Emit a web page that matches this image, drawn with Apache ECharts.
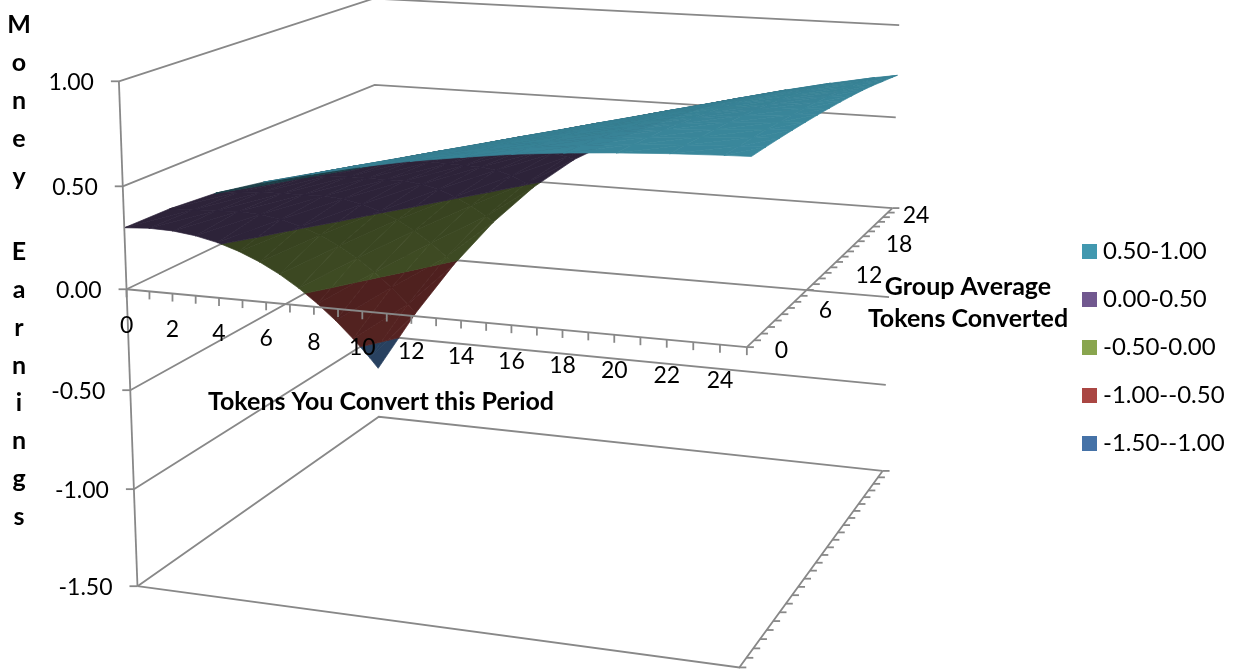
<!DOCTYPE html>
<html>
<head>
<meta charset="utf-8">
<title>Money Earnings surface</title>
<script src="https://cdn.jsdelivr.net/npm/echarts@6/dist/echarts.min.js"></script>
<style>html,body{margin:0;padding:0;background:#fff}#chart{width:1238px;height:671px}</style>
</head>
<body>
<div id="chart"></div>
<script>
// Category positions sampled by the earnings table (tokens you convert, group average).
const tokenCols = [0, 2, 4, 6, 8, 10, 12, 14, 16, 18, 20, 22, 24, 25];
const groupRows = [0, 2, 4, 6, 8, 10, 12, 14, 16, 18, 20, 22, 24, 25];

// Money earnings: one row per group average, one column per token count.
const earnings00 = [0.300, 0.410, 0.503, 0.572, 0.627, 0.677, 0.720, 0.754, 0.785, 0.807, 0.824, 0.837, 0.846, 0.849];
const earnings02 = [0.246, 0.355, 0.460, 0.540, 0.600, 0.653, 0.700, 0.738, 0.771, 0.797, 0.816, 0.831, 0.842, 0.846];
const earnings04 = [0.181, 0.300, 0.410, 0.503, 0.572, 0.627, 0.677, 0.720, 0.754, 0.785, 0.807, 0.824, 0.837, 0.842];
const earnings06 = [0.104, 0.246, 0.355, 0.460, 0.540, 0.600, 0.653, 0.700, 0.738, 0.771, 0.797, 0.816, 0.831, 0.837];
const earnings08 = [0.016, 0.181, 0.300, 0.410, 0.503, 0.572, 0.627, 0.677, 0.720, 0.754, 0.785, 0.807, 0.824, 0.831];
const earnings10 = [-0.084, 0.104, 0.246, 0.355, 0.460, 0.540, 0.600, 0.653, 0.700, 0.738, 0.771, 0.797, 0.816, 0.824];
const earnings12 = [-0.195, 0.016, 0.181, 0.300, 0.410, 0.503, 0.572, 0.627, 0.677, 0.720, 0.754, 0.785, 0.807, 0.816];
const earnings14 = [-0.318, -0.084, 0.104, 0.246, 0.355, 0.460, 0.540, 0.600, 0.653, 0.700, 0.738, 0.771, 0.797, 0.807];
const earnings16 = [-0.453, -0.195, 0.016, 0.181, 0.300, 0.410, 0.503, 0.572, 0.627, 0.677, 0.720, 0.754, 0.785, 0.797];
const earnings18 = [-0.599, -0.318, -0.084, 0.104, 0.246, 0.355, 0.460, 0.540, 0.600, 0.653, 0.700, 0.738, 0.771, 0.785];
const earnings20 = [-0.756, -0.453, -0.195, 0.016, 0.181, 0.300, 0.410, 0.503, 0.572, 0.627, 0.677, 0.720, 0.754, 0.771];
const earnings22 = [-0.925, -0.599, -0.318, -0.084, 0.104, 0.246, 0.355, 0.460, 0.540, 0.600, 0.653, 0.700, 0.738, 0.754];
const earnings24 = [-1.105, -0.756, -0.453, -0.195, 0.016, 0.181, 0.300, 0.410, 0.503, 0.572, 0.627, 0.677, 0.720, 0.738];
const earnings25 = [-1.200, -0.839, -0.524, -0.255, -0.033, 0.144, 0.274, 0.383, 0.482, 0.556, 0.614, 0.665, 0.710, 0.729];
const earningsRows = [earnings00, earnings02, earnings04, earnings06, earnings08, earnings10, earnings12,
  earnings14, earnings16, earnings18, earnings20, earnings22, earnings24, earnings25];

// Value bands, listed from the lowest range up so higher bands paint last.
const bandNames = ['-1.50--1.00', '-1.00--0.50', '-0.50-0.00', '0.00-0.50', '0.50-1.00'];
const bandLows = [-1.5, -1.0, -0.5, 0.0, 0.5];
const bandHighs = [-1.0, -0.5, 0.0, 0.5, 1.0];
const bandColors = ['#4572A7', '#AA4643', '#89A54E', '#71588F', '#4198AF'];
const bandUndersideLift = [0.07, 0, 0, 0, 0];
const legendOrder = ['0.50-1.00', '0.00-0.50', '-0.50-0.00', '-1.00--0.50', '-1.50--1.00'];

// Axis ticks and their labels.
const moneyTicks = [1, 0.5, 0, -0.5, -1, -1.5];
const moneyLabels = ['1.00', '0.50', '0.00', '-0.50', '-1.00', '-1.50'];
const tokenTicks = [0, 1, 2, 3, 4, 5, 6, 7, 8, 9, 10, 11, 12, 13, 14, 15, 16, 17, 18, 19, 20, 21, 22, 23, 24, 25];
const tokenLabels = ['0', '2', '4', '6', '8', '10', '12', '14', '16', '18', '20', '22', '24'];
const groupTicks = tokenTicks;
const groupLabels = ['0', '6', '12', '18', '24'];

const TOKEN_MAX = 25;
const FLOOR = -1.5;
const LABEL_FONT = '23px Lato';
const TITLE_FONT = 'bold 25px Lato';
const LINE = '#888888';
const LINE_WIDTH = 1.8;

// Known screen spots of the plot box, [tokens, group, money, px, py], used to fit the camera.
const cameraAnchors = [
  [0, 0, 1, 117, 82], [0, 0, 0.5, 122, 187], [0, 0, 0, 127, 289], [0, 0, -0.5, 131, 390], [0, 0, -1, 134, 489], [0, 0, -1.5, 138, 586],
  [0, 25, 1, 376, -2], [0, 25, 0.5, 375, 85], [0, 25, 0, 376, 170], [0, 25, -0.5, 376, 254], [0, 25, -1, 377, 335], [0, 25, -1.5, 378, 417],
  [25, 25, 1, 897, 25], [25, 25, 0.5, 897, 117], [25, 25, 0, 893, 208], [25, 25, -0.5, 888, 297], [25, 25, -1, 887, 386], [25, 25, -1.5, 882, 471],
  [25, 0, 0, 747, 347], [25, 0, -1.5, 740, 667]
];

// Least-squares fit of a 3D-to-2D projective camera.
function fitCamera(anchors) {
  const n = 11;
  const ata = Array.from({ length: n }, () => new Array(n + 1).fill(0));
  const addRow = (row, rhs) => {
    for (let i = 0; i < n; i++) {
      for (let j = 0; j < n; j++) ata[i][j] += row[i] * row[j];
      ata[i][n] += row[i] * rhs;
    }
  };
  anchors.forEach(([t, g, z, px, py]) => {
    const X = t / TOKEN_MAX, Y = g / TOKEN_MAX, u = px / 1000, v = py / 1000;
    addRow([X, Y, z, 1, 0, 0, 0, 0, -u * X, -u * Y, -u * z], u);
    addRow([0, 0, 0, 0, X, Y, z, 1, -v * X, -v * Y, -v * z], v);
  });
  for (let c = 0; c < n; c++) {
    let pivot = c;
    for (let r = c + 1; r < n; r++) if (Math.abs(ata[r][c]) > Math.abs(ata[pivot][c])) pivot = r;
    [ata[c], ata[pivot]] = [ata[pivot], ata[c]];
    for (let r = 0; r < n; r++) {
      if (r === c) continue;
      const f = ata[r][c] / ata[c][c];
      for (let k = c; k <= n; k++) ata[r][k] -= f * ata[c][k];
    }
  }
  return ata.map((row, i) => row[n] / row[i]);
}
const cam = fitCamera(cameraAnchors);

function project(t, g, z) {
  const X = t / TOKEN_MAX, Y = g / TOKEN_MAX;
  const w = cam[8] * X + cam[9] * Y + cam[10] * z + 1;
  return [
    1000 * (cam[0] * X + cam[1] * Y + cam[2] * z + cam[3]) / w,
    1000 * (cam[4] * X + cam[5] * Y + cam[6] * z + cam[7]) / w
  ];
}

// Triangles of the surface, far cells first so nearer cells paint over them.
const triangles = [];
for (let r = groupRows.length - 2; r >= 0; r--) {
  for (let c = 0; c < tokenCols.length - 1; c++) {
    const x0 = tokenCols[c], x1 = tokenCols[c + 1], g0 = groupRows[r], g1 = groupRows[r + 1];
    const a = earningsRows[r][c], b = earningsRows[r][c + 1], d = earningsRows[r + 1][c + 1], e = earningsRows[r + 1][c];
    triangles.push([x0, g0, a, x1, g1, d, x0, g1, e]);
    triangles.push([x0, g0, a, x1, g0, b, x1, g1, d]);
  }
}

function clipBelow(poly, limit, sign) {
  const out = [];
  for (let i = 0; i < poly.length; i++) {
    const p = poly[i], q = poly[(i + 1) % poly.length];
    const dp = sign * (p[2] - limit), dq = sign * (q[2] - limit);
    if (dp <= 0) out.push(p);
    if ((dp < 0 && dq > 0) || (dp > 0 && dq < 0)) {
      const k = dp / (dp - dq);
      out.push([p[0] + k * (q[0] - p[0]), p[1] + k * (q[1] - p[1]), p[2] + k * (q[2] - p[2])]);
    }
  }
  return out;
}

function signedArea(a, b, c) {
  return (b[0] - a[0]) * (c[1] - a[1]) - (c[0] - a[0]) * (b[1] - a[1]);
}
const topSign = Math.sign(signedArea(project(0, 0, 0), project(25, 0, 0), project(25, 25, 0)));

function shade(hex, k) {
  const n = parseInt(hex.slice(1), 16);
  const ch = s => Math.max(0, Math.min(255, Math.round(((n >> s) & 255) * k)));
  return 'rgb(' + ch(16) + ',' + ch(8) + ',' + ch(0) + ')';
}

function bandRenderer(idx) {
  return function (params, api) {
    const v = [];
    for (let i = 0; i < 9; i++) v.push(api.value(i));
    const tri = [[v[0], v[1], v[2]], [v[3], v[4], v[5]], [v[6], v[7], v[8]]];
    let poly = clipBelow(tri, bandHighs[idx], 1);
    if (poly.length >= 3) poly = clipBelow(poly, bandLows[idx], -1);
    if (poly.length < 3) return null;

    // Facet shading: the underside is darker and brightens with steepness.
    const ux = tri[1][0] - tri[0][0], uy = tri[1][1] - tri[0][1], uz = tri[1][2] - tri[0][2];
    const vx = tri[2][0] - tri[0][0], vy = tri[2][1] - tri[0][1], vz = tri[2][2] - tri[0][2];
    const nz = ux * vy - uy * vx;
    const gx = (uz * vy - uy * vz) / nz, gy = (ux * vz - uz * vx) / nz;
    const grad = Math.sqrt(gx * gx + gy * gy);
    const faceTop = Math.sign(signedArea(project(tri[0][0], tri[0][1], tri[0][2]),
      project(tri[1][0], tri[1][1], tri[1][2]), project(tri[2][0], tri[2][1], tri[2][2]))) * Math.sign(nz) === topSign;
    const under = 0.40 + Math.max(0, grad - 0.11) * 1.1 + bandUndersideLift[idx];
    const k = faceTop ? 0.90 - 2.5 * grad : under;
    const color = shade(bandColors[idx], k);
    return {
      type: 'polygon',
      shape: { points: poly.map(p => api.coord(project(p[0], p[1], p[2]))) },
      style: { fill: color, stroke: color, lineWidth: 0.7 }
    };
  };
}

function polyline(api, pts) {
  return {
    type: 'polyline',
    shape: { points: pts.map(p => api.coord(project(p[0], p[1], p[2]))) },
    style: { fill: null, stroke: LINE, lineWidth: LINE_WIDTH }
  };
}

const axisRuns = [[0, 0, 1, 0, 0, FLOOR], [0, 0, 0, 25, 0, 0], [25, 0, 0, 25, 25, 0]];
const tickMarks = [];
moneyTicks.forEach(z => tickMarks.push([0, 0, z, -8, 0]));
tokenTicks.forEach(t => tickMarks.push([t, 0, 0, 0, 8]));
groupTicks.forEach(g => tickMarks.push([25, g, 0, 7, 0]));
groupTicks.forEach(g => tickMarks.push([25, g, FLOOR, 7, 0]));

const labelItems = [];
moneyLabels.forEach((s, i) => labelItems.push({ p: [0, 0, moneyTicks[i]], dx: -25, dy: 1, s, align: 'right' }));
tokenLabels.forEach((s, i) => labelItems.push({ p: [i * 2, 0, 0], dx: 0, dy: 36, s, align: 'center' }));
const groupLabelDx = [28, 31, 31, 28, 15];
groupLabels.forEach((s, i) => labelItems.push({ p: [25, i * 6, 0], dx: groupLabelDx[i], dy: 3, s, align: 'left' }));

const series = [
  {
    type: 'custom', name: 'walls', coordinateSystem: 'cartesian2d', silent: true, z: 2, clip: false,
    data: moneyTicks.map(z => [0, 0, z]),
    renderItem: (p, api) => {
      const z = api.value(2);
      return polyline(api, [[0, 0, z], [0, 25, z], [25, 25, z]]);
    }
  },
  {
    type: 'custom', name: 'floor', coordinateSystem: 'cartesian2d', silent: true, z: 2, clip: false,
    data: [[0, 0, FLOOR]],
    renderItem: (p, api) => {
      const z = api.value(2);
      return polyline(api, [[0, 0, z], [25, 0, z], [25, 25, z]]);
    }
  }
];
bandNames.forEach((name, i) => series.push({
  type: 'custom', name, coordinateSystem: 'cartesian2d', silent: true, z: 3, clip: false,
  itemStyle: { color: bandColors[i] },
  data: triangles,
  renderItem: bandRenderer(i)
}));
series.push(
  {
    type: 'custom', name: 'axes', coordinateSystem: 'cartesian2d', silent: true, z: 5, clip: false,
    data: axisRuns,
    renderItem: (p, api) => polyline(api, [[api.value(0), api.value(1), api.value(2)], [api.value(3), api.value(4), api.value(5)]])
  },
  {
    type: 'custom', name: 'ticks', coordinateSystem: 'cartesian2d', silent: true, z: 5, clip: false,
    data: tickMarks,
    renderItem: (p, api) => {
      const c = api.coord(project(api.value(0), api.value(1), api.value(2)));
      return {
        type: 'line',
        shape: { x1: c[0], y1: c[1], x2: c[0] + api.value(3), y2: c[1] + api.value(4) },
        style: { stroke: LINE, lineWidth: LINE_WIDTH }
      };
    }
  },
  {
    type: 'custom', name: 'tick labels', coordinateSystem: 'cartesian2d', silent: true, z: 6, clip: false,
    data: labelItems.map((l, i) => [l.p[0], l.p[1], i]),
    renderItem: (p, api) => {
      const l = labelItems[api.value(2)];
      const c = api.coord(project(l.p[0], l.p[1], l.p[2]));
      return {
        type: 'text',
        style: { x: c[0] + l.dx, y: c[1] + l.dy, text: l.s, font: LABEL_FONT, fill: '#000', align: l.align, verticalAlign: 'middle' }
      };
    }
  }
);

const chart = echarts.init(document.getElementById('chart'), null, { renderer: 'canvas' });
chart.setOption({
  animation: false,
  backgroundColor: '#fff',
  grid: { left: 0, right: 0, top: 0, bottom: 0 },
  xAxis: { type: 'value', min: 0, max: 1238, show: false },
  yAxis: { type: 'value', min: 0, max: 671, inverse: true, show: false },
  legend: {
    data: legendOrder,
    orient: 'vertical',
    left: 1082,
    top: 239.5,
    padding: 0,
    icon: 'rect',
    itemWidth: 15,
    itemHeight: 15,
    itemGap: 24,
    selectedMode: false,
    textStyle: { fontFamily: 'Lato', fontSize: 24, color: '#000', lineHeight: 24, padding: [0, 0, 0, 1] }
  },
  graphic: [
    {
      type: 'text', silent: true, z: 10,
      style: { x: 381, y: 402, text: 'Tokens You Convert this Period', font: TITLE_FONT, fill: '#000', align: 'center', verticalAlign: 'middle' }
    },
    {
      type: 'text', silent: true, z: 10,
      style: { x: 968, y: 303, text: 'Group Average\nTokens Converted', font: TITLE_FONT, lineHeight: 32, fill: '#000', align: 'center', verticalAlign: 'middle' }
    },
    {
      type: 'text', silent: true, z: 10,
      style: { x: 19, y: 271, text: 'M\no\nn\ne\ny\n \nE\na\nr\nn\ni\nn\ng\ns', font: TITLE_FONT, lineHeight: 37.8, fill: '#000', align: 'center', verticalAlign: 'middle' }
    }
  ],
  series
});
</script>
</body>
</html>
